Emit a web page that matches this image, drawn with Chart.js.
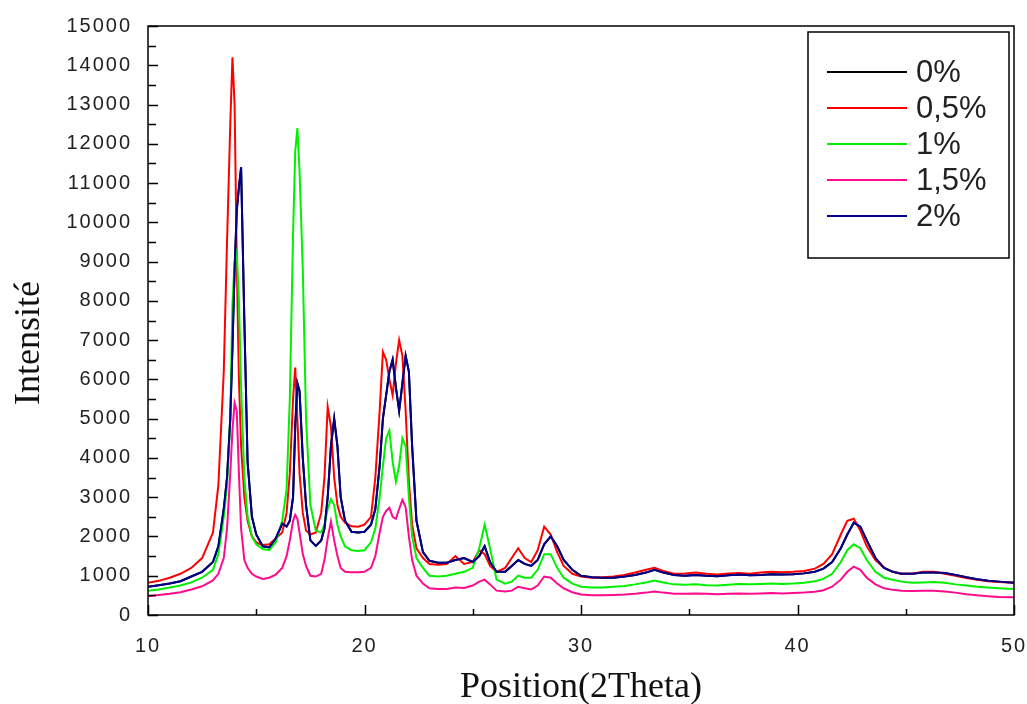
<!DOCTYPE html>
<html>
<head>
<meta charset="utf-8">
<script src="https://cdn.jsdelivr.net/npm/chart.js@4.4.1/dist/chart.umd.min.js"></script>
<style>
    body { margin: 0; background: #fff; }
    #chart { width: 1027px; height: 704px; }
</style>
</head>
<body>
<div id="chart"><canvas id="chartCanvas" width="1027" height="704"></canvas></div>
<script>
// 2Theta positions shared by every pattern
const positions = [10, 10.5, 11, 11.5, 12, 12.5, 13, 13.25, 13.5, 13.65, 13.8, 13.9, 14.0, 14.1, 14.2, 14.3, 14.45, 14.6, 14.8, 15.0,
    15.3, 15.6, 15.9, 16.2, 16.4, 16.55, 16.7, 16.8, 16.9, 17.0, 17.15, 17.3, 17.5, 17.75, 18.0, 18.15, 18.3, 18.45, 18.6, 18.75,
    18.9, 19.1, 19.4, 19.7, 20.0, 20.3, 20.5, 20.7, 20.85, 21.0, 21.15, 21.3, 21.45, 21.6, 21.75, 21.9, 22.05, 22.2, 22.4, 22.7,
    23.0, 23.4, 23.8, 24.2, 24.6, 25.0, 25.3, 25.55, 25.8, 26.1, 26.5, 26.8, 27.1, 27.4, 27.7, 28.0, 28.3, 28.6, 28.9, 29.2,
    29.6, 30.0, 30.5, 31, 31.5, 32, 32.5, 33, 33.4, 33.8, 34.3, 34.8, 35.3, 35.8, 36.3, 36.8, 37.3, 37.8, 38.3, 38.8,
    39.3, 39.8, 40.3, 40.8, 41.2, 41.6, 42.0, 42.3, 42.6, 42.9, 43.2, 43.6, 44.0, 44.4, 44.8, 45.3, 45.8, 46.3, 46.8, 47.3,
    47.8, 48.3, 48.8, 49.3, 50];

const seriesLabels = ["0%", "0,5%", "1%", "1,5%", "2%"];

// 0% lies under the 2% trace
const int0 = [720, 760, 800, 860, 980, 1100, 1350, 1750, 2700, 3500, 5000, 6800, 8800, 10300, 10900, 11400, 7500, 3900, 2500, 2050,
    1750, 1720, 1950, 2330, 2250, 2400, 3000, 4800, 5900, 5700, 4000, 2800, 1900, 1760, 1900, 2200, 3000, 4300, 5000, 4300,
    3000, 2400, 2120, 2100, 2120, 2300, 2700, 3800, 5000, 5600, 6200, 6500, 5800, 5200, 5900, 6600, 6200, 4300, 2400, 1600,
    1380, 1330, 1330, 1400, 1450, 1350, 1500, 1750, 1350, 1100, 1100, 1250, 1400, 1300, 1250, 1400, 1800, 2000, 1750, 1400,
    1150, 1000, 960, 950, 950, 980, 1020, 1080, 1150, 1080, 1020, 1000, 1020, 1000, 990, 1010, 1030, 1010, 1020, 1040,
    1030, 1040, 1060, 1100, 1180, 1350, 1700, 2050, 2350, 2250, 1900, 1450, 1200, 1100, 1050, 1050, 1080, 1080, 1070, 1020,
    960, 910, 870, 850, 820];

const int05 = [820, 870, 950, 1050, 1200, 1450, 2100, 3300, 6200, 9500, 12500, 14200, 13000, 9000, 6000, 4300, 3000, 2400, 2000, 1850,
    1780, 1800, 1950, 2100, 2600, 3600, 5500, 6300, 5000, 3600, 2600, 2150, 2050, 2100, 2600, 3500, 5300, 4800, 3500, 2800,
    2500, 2350, 2260, 2250, 2300, 2500, 3500, 5200, 6700, 6500, 6000, 5600, 6400, 7000, 6600, 5200, 3400, 2300, 1700, 1450,
    1300, 1280, 1300, 1500, 1300, 1350, 1650, 1550, 1250, 1100, 1200, 1450, 1700, 1450, 1350, 1650, 2250, 2050, 1600, 1250,
    1050, 980, 950, 960, 980, 1020, 1080, 1150, 1200, 1120, 1050, 1060, 1080, 1050, 1030, 1060, 1070, 1050, 1080, 1100,
    1090, 1100, 1120, 1180, 1300, 1550, 2050, 2400, 2450, 2150, 1750, 1400, 1200, 1100, 1050, 1050, 1100, 1100, 1050, 1000,
    940, 900, 860, 840, 820];

const int1 = [620, 650, 700, 750, 830, 950, 1150, 1550, 2500, 3300, 5000, 7900, 9000, 9250, 8000, 5800, 3500, 2500, 2000, 1800,
    1680, 1650, 1850, 2400, 3200, 5500, 9700, 11800, 12400, 11300, 8800, 5000, 2800, 2150, 2100, 2300, 2700, 2950, 2800, 2300,
    2000, 1750, 1650, 1630, 1650, 1850, 2200, 3000, 3800, 4500, 4700, 3900, 3400, 3800, 4500, 4300, 3000, 2000, 1450, 1200,
    1000, 980, 1000, 1050, 1100, 1200, 1700, 2300, 1700, 900, 800, 850, 1000, 950, 950, 1150, 1550, 1550, 1200, 950,
    800, 720, 700, 700, 720, 740, 780, 830, 880, 830, 780, 770, 780, 760, 750, 770, 790, 780, 790, 800,
    790, 800, 820, 860, 920, 1050, 1350, 1650, 1800, 1700, 1400, 1100, 950, 900, 850, 820, 830, 840, 820, 780,
    750, 720, 700, 680, 660];

const int15 = [480, 510, 540, 580, 650, 730, 880, 1050, 1450, 2200, 3600, 4700, 5400, 5200, 3600, 2200, 1400, 1200, 1050, 980,
    920, 950, 1030, 1200, 1500, 1900, 2400, 2550, 2450, 2100, 1550, 1250, 1000, 980, 1050, 1400, 1950, 2380, 1900, 1500,
    1200, 1100, 1090, 1090, 1100, 1200, 1500, 2100, 2500, 2650, 2730, 2500, 2450, 2700, 2930, 2750, 2000, 1400, 1000, 800,
    680, 660, 660, 700, 690, 750, 850, 900, 780, 620, 600, 620, 720, 680, 650, 750, 980, 950, 800, 680,
    580, 520, 500, 500, 510, 520, 540, 570, 600, 570, 540, 540, 550, 540, 530, 540, 550, 540, 550, 560,
    550, 560, 570, 590, 630, 720, 900, 1100, 1230, 1150, 950, 780, 680, 640, 620, 610, 620, 620, 600, 570,
    530, 500, 480, 460, 450];

const int2 = [720, 760, 800, 860, 980, 1100, 1350, 1750, 2700, 3500, 5000, 6800, 8800, 10300, 10900, 11400, 7500, 3900, 2500, 2050,
    1750, 1720, 1950, 2330, 2250, 2400, 3000, 4800, 5900, 5700, 4000, 2800, 1900, 1760, 1900, 2200, 3000, 4300, 5000, 4300,
    3000, 2400, 2120, 2100, 2120, 2300, 2700, 3800, 5000, 5600, 6200, 6500, 5800, 5200, 5900, 6600, 6200, 4300, 2400, 1600,
    1380, 1330, 1330, 1400, 1450, 1350, 1500, 1750, 1350, 1100, 1100, 1250, 1400, 1300, 1250, 1400, 1800, 2000, 1750, 1400,
    1150, 1000, 960, 950, 950, 980, 1020, 1080, 1150, 1080, 1020, 1000, 1020, 1000, 990, 1010, 1030, 1010, 1020, 1040,
    1030, 1040, 1060, 1100, 1180, 1350, 1700, 2050, 2350, 2250, 1900, 1450, 1200, 1100, 1050, 1050, 1080, 1080, 1070, 1020,
    960, 910, 870, 850, 820];

const seriesColors = ["#000000", "#ff0000", "#00f000", "#ff0a8c", "#00008b"];
const drawOrder = [4, 3, 2, 1, 0];

document.addEventListener("DOMContentLoaded", function() {

    let allValues = [int0, int05, int1, int15, int2];
    let datasets = [];
    for (let i = 0; i < allValues.length; i++) {
        datasets.push({
            label: seriesLabels[i],
            data: positions.map(function(x, k) { return { x: x, y: allValues[i][k] }; }),
            borderColor: seriesColors[i],
            borderWidth: 2,
            pointRadius: 0,
            tension: 0,
            order: drawOrder[i]
        });
    }

    let spacing = {
        id: "spacing",
        beforeDraw: function(chart) {
            chart.ctx.letterSpacing = "2px";
        }
    };

    // frame, inside ticks, axis titles and boxed legend
    let decorations = {
        id: "decorations",
        afterDraw: function(chart) {
            let ctx = chart.ctx;
            let area = chart.chartArea;
            let xs = chart.scales.x, ys = chart.scales.y;
            ctx.save();
            ctx.letterSpacing = "0px";
            ctx.strokeStyle = "#000";
            ctx.lineWidth = 1.5;
            ctx.strokeRect(area.left, area.top, area.right - area.left, area.bottom - area.top);

            ctx.beginPath();
            for (let v = 0; v <= 15000; v += 500) {
                let py = Math.round(ys.getPixelForValue(v)) + 0.5;
                let len = (v % 1000 == 0) ? 10 : 8;
                ctx.moveTo(area.left, py);
                ctx.lineTo(area.left + len, py);
            }
            for (let t = 10; t <= 50; t += 5) {
                let px = Math.round(xs.getPixelForValue(t)) + 0.5;
                let len = (t % 10 == 0) ? 10 : 6;
                ctx.moveTo(px, area.bottom);
                ctx.lineTo(px, area.bottom - len);
            }
            ctx.stroke();

            // axis titles
            ctx.fillStyle = "#111";
            ctx.font = "36px 'Liberation Serif', 'Times New Roman', serif";
            ctx.textAlign = "center";
            ctx.textBaseline = "middle";
            ctx.fillText("Position(2Theta)", (area.left + area.right) / 2, 688);
            ctx.save();
            ctx.translate(30, 343);
            ctx.rotate(-Math.PI / 2);
            ctx.fillText("Intensité", 0, 0);
            ctx.restore();

            // legend box
            ctx.fillStyle = "#fff";
            ctx.fillRect(808, 32, 201, 226);
            ctx.strokeStyle = "#000";
            ctx.lineWidth = 1.5;
            ctx.strokeRect(808, 32, 201, 226);
            ctx.font = "31px 'Liberation Sans', Arial, sans-serif";
            ctx.textAlign = "left";
            for (let i = 0; i < chart.data.datasets.length; i++) {
                let ds = chart.data.datasets[i];
                let ly = 72 + i * 36;
                ctx.strokeStyle = ds.borderColor;
                ctx.lineWidth = 2;
                ctx.beginPath();
                ctx.moveTo(827, ly);
                ctx.lineTo(907, ly);
                ctx.stroke();
                ctx.fillStyle = "#222";
                ctx.fillText(ds.label, 916, ly + 1);
            }
            ctx.restore();
        }
    };

    let tickFont = { family: "'Liberation Sans', Arial, sans-serif", size: 20 };

    let context = document.querySelector("#chartCanvas").getContext("2d");
    new Chart(context, {
        type: "line",
        data: { datasets: datasets },
        options: {
            responsive: false,
            animation: false,
            devicePixelRatio: 1,
            layout: { padding: { top: 26, right: 13, left: 0, bottom: 0 } },
            plugins: {
                legend: { display: false },
                tooltip: { enabled: false }
            },
            scales: {
                x: {
                    type: "linear",
                    min: 10,
                    max: 50,
                    grid: { display: false, drawTicks: false },
                    border: { display: false },
                    ticks: {
                        stepSize: 10,
                        padding: 19,
                        color: "#222",
                        font: tickFont,
                        callback: function(value) { return String(value); }
                    },
                    afterFit: function(scale) {
                        scale.height = 89;
                        scale.paddingLeft = 0;
                        scale.paddingRight = 0;
                    }
                },
                y: {
                    min: 0,
                    max: 15000,
                    grid: { display: false, drawTicks: false },
                    border: { display: false },
                    ticks: {
                        stepSize: 1000,
                        padding: 16,
                        color: "#222",
                        font: tickFont,
                        callback: function(value) { return String(value); }
                    },
                    afterFit: function(scale) {
                        scale.width = 148;
                        scale.paddingTop = 0;
                        scale.paddingBottom = 0;
                    }
                }
            }
        },
        plugins: [spacing, decorations]
    });

});
</script>
</body>
</html>
